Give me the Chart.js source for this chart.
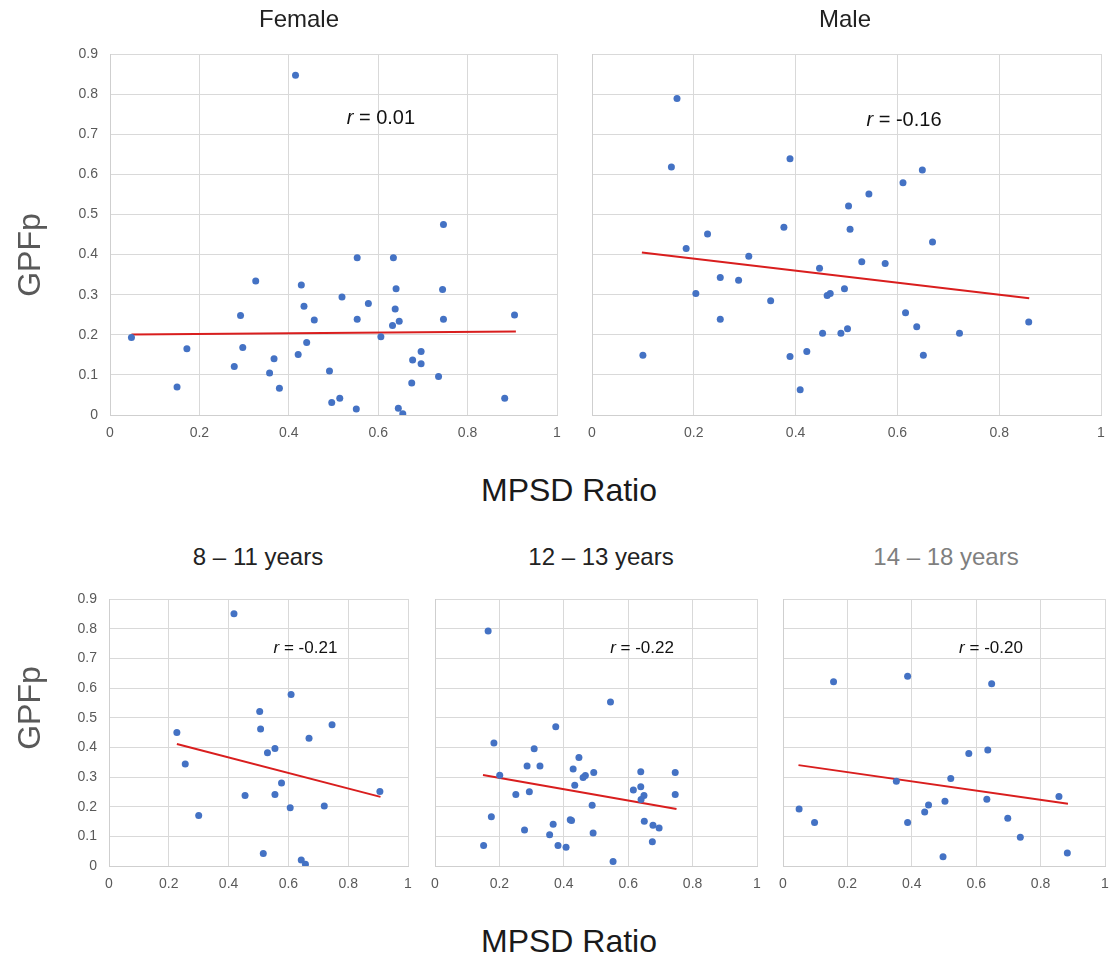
<!DOCTYPE html>
<html><head><meta charset="utf-8">
<script src="https://cdn.jsdelivr.net/npm/chart.js@4.4.1/dist/chart.umd.min.js"></script>
<style>
body{margin:0;background:#fff;width:1113px;height:963px;position:relative;overflow:hidden;font-family:"Liberation Sans",Arial,sans-serif;}
canvas{position:absolute;}
.t{position:absolute;white-space:nowrap;line-height:1;text-align:center;}
</style></head><body>
<script>
// ---- Data ----
const xTicks = [0, 0.2, 0.4, 0.6, 0.8, 1];
const yTicks = [0, 0.1, 0.2, 0.3, 0.4, 0.5, 0.6, 0.7, 0.8, 0.9];

const panelTitles = ['Female', 'Male', '8 – 11 years', '12 – 13 years', '14 – 18 years'];
const rValues = ['0.01', '-0.16', '-0.21', '-0.22', '-0.20'];

const femaleX = [0.415,0.746,0.553,0.634,0.326,0.428,0.640,0.744,0.519,0.578,0.434,0.638,0.292,0.905,0.457,0.553,0.746,0.647,0.632,0.048,0.606,0.440,0.172,0.297,0.696,0.421,0.367,0.677,0.696,0.278,0.491,0.357,0.735,0.675,0.150,0.379,0.883,0.514,0.496,0.551,0.645,0.655];
const femaleY = [0.847,0.475,0.392,0.392,0.334,0.324,0.315,0.313,0.294,0.278,0.271,0.264,0.248,0.249,0.237,0.239,0.239,0.234,0.223,0.193,0.195,0.181,0.165,0.168,0.158,0.151,0.140,0.137,0.128,0.121,0.110,0.105,0.096,0.080,0.070,0.067,0.042,0.042,0.031,0.015,0.017,0.003];
const femaleTrendX = [0.048, 0.908];
const femaleTrendY = [0.201, 0.208];

const maleX = [0.167,0.389,0.156,0.649,0.611,0.544,0.504,0.377,0.507,0.227,0.669,0.185,0.308,0.530,0.576,0.447,0.252,0.288,0.496,0.204,0.468,0.462,0.351,0.616,0.252,0.858,0.638,0.502,0.453,0.489,0.722,0.422,0.100,0.389,0.651,0.409];
const maleY = [0.789,0.639,0.618,0.611,0.579,0.551,0.521,0.468,0.463,0.451,0.431,0.415,0.396,0.382,0.378,0.366,0.343,0.336,0.315,0.303,0.303,0.298,0.285,0.255,0.239,0.232,0.220,0.215,0.204,0.204,0.204,0.158,0.149,0.146,0.149,0.063];
const maleTrendX = [0.098, 0.859];
const maleTrendY = [0.405, 0.291];

const age8to11X = [0.418,0.609,0.504,0.746,0.507,0.227,0.669,0.555,0.530,0.255,0.577,0.906,0.455,0.555,0.720,0.606,0.300,0.516,0.643,0.657];
const age8to11Y = [0.850,0.578,0.521,0.476,0.462,0.450,0.431,0.396,0.382,0.344,0.280,0.251,0.238,0.241,0.202,0.196,0.170,0.042,0.020,0.006];
const age8to11TrendX = [0.227, 0.908];
const age8to11TrendY = [0.411, 0.233];

const age12to13X = [0.165,0.545,0.375,0.183,0.308,0.447,0.286,0.326,0.429,0.639,0.493,0.746,0.201,0.467,0.460,0.434,0.639,0.616,0.293,0.251,0.746,0.649,0.640,0.488,0.175,0.420,0.424,0.650,0.367,0.677,0.696,0.278,0.491,0.356,0.675,0.151,0.382,0.407,0.553];
const age12to13Y = [0.792,0.553,0.469,0.415,0.395,0.366,0.337,0.337,0.327,0.318,0.315,0.315,0.306,0.305,0.298,0.272,0.267,0.256,0.250,0.241,0.241,0.238,0.224,0.205,0.166,0.156,0.153,0.151,0.141,0.137,0.128,0.121,0.111,0.105,0.082,0.069,0.069,0.063,0.015];
const age12to13TrendX = [0.149, 0.750];
const age12to13TrendY = [0.307, 0.192];

const age14to18X = [0.387,0.157,0.648,0.636,0.577,0.521,0.352,0.857,0.633,0.503,0.452,0.050,0.440,0.698,0.098,0.387,0.737,0.883,0.497];
const age14to18Y = [0.640,0.621,0.614,0.391,0.379,0.295,0.286,0.234,0.225,0.218,0.206,0.192,0.182,0.161,0.147,0.147,0.097,0.044,0.031];
const age14to18TrendX = [0.048, 0.885];
const age14to18TrendY = [0.340, 0.210];

const yAxisTitle = 'GPFp';
const xAxisTitle = 'MPSD Ratio';

// ---- Rendering ----
Chart.defaults.font.family = '"Liberation Sans", Arial, sans-serif';

const rLabel = {
  id: 'rLabel',
  afterDatasetsDraw(chart, args, o) {
    const {ctx, scales} = chart;
    const px = scales.x.getPixelForValue(o.x);
    const py = scales.y.getPixelForValue(o.y);
    const fam = '"Liberation Sans", Arial, sans-serif';
    ctx.save();
    ctx.textBaseline = 'alphabetic';
    ctx.textAlign = 'left';
    ctx.fillStyle = '#111';
    ctx.font = 'italic ' + o.size + 'px ' + fam;
    const rW = ctx.measureText('r').width;
    ctx.font = o.size + 'px ' + fam;
    const rest = ' = ' + o.text;
    const restW = ctx.measureText(rest).width;
    const sx = px - (rW + restW) / 2;
    ctx.font = 'italic ' + o.size + 'px ' + fam;
    ctx.fillText('r', sx, py);
    ctx.font = o.size + 'px ' + fam;
    ctx.fillText(rest, sx + rW, py);
    ctx.restore();
  }
};

const fmt = v => String(Math.round(v * 10) / 10);

function makePanel(p, xs, ys, tx, ty, rText) {
  const padL = 24, padR = 24, padT = 26, padB = 4, XH = 30;
  const WY = p.yTicks ? 45 : 0;
  const cv = document.createElement('canvas');
  cv.width = (p.R - p.L) + padL + WY + padR;
  cv.height = (p.B - p.T) + padT + XH + padB;
  cv.style.left = (p.L - padL - WY) + 'px';
  cv.style.top = (p.T - padT) + 'px';
  document.body.appendChild(cv);
  const gridCol = '#d9d9d9';
  new Chart(cv, {
    type: 'scatter',
    data: {
      datasets: [
        { type: 'scatter', data: xs.map((x, i) => ({x: x, y: ys[i]})),
          backgroundColor: '#4472C4', borderWidth: 0, pointRadius: 3.5, pointHoverRadius: 3.5 },
        { type: 'line', data: tx.map((x, i) => ({x: x, y: ty[i]})),
          borderColor: '#d91e1e', borderWidth: 2, pointRadius: 0, fill: false, tension: 0 }
      ]
    },
    options: {
      responsive: false, animation: false, events: [],
      layout: { padding: { left: padL, right: padR, top: padT, bottom: padB } },
      plugins: {
        legend: { display: false }, tooltip: { enabled: false },
        rLabel: { x: p.rx, y: p.ry, size: p.rSize, text: rText }
      },
      scales: {
        x: {
          type: 'linear', min: xTicks[0], max: xTicks[xTicks.length - 1],
          afterBuildTicks: s => { s.ticks = xTicks.map(v => ({value: v})); },
          ticks: { color: '#595959', font: { size: 14 }, padding: 10, callback: fmt },
          grid: { color: gridCol, drawTicks: false },
          border: { color: '#cfcfcf' },
          afterFit: s => { s.height = XH; }
        },
        y: {
          type: 'linear', min: yTicks[0], max: yTicks[yTicks.length - 1],
          afterBuildTicks: s => { s.ticks = yTicks.map(v => ({value: v})); },
          ticks: { display: p.yTicks, color: '#595959', font: { size: 14 }, padding: 12, callback: fmt },
          grid: { color: gridCol, drawTicks: false },
          border: { color: '#cfcfcf' },
          afterFit: s => { s.width = WY; }
        }
      }
    },
    plugins: [rLabel]
  });
}

function addText(text, cx, capCy, size, color, rotate) {
  const d = document.createElement('div');
  d.className = 't';
  d.textContent = text;
  d.style.fontSize = size + 'px';
  d.style.color = color;
  if (rotate) {
    d.style.width = '240px'; d.style.height = size + 'px';
    d.style.left = (cx - 120) + 'px';
    d.style.top = (capCy - size / 2) + 'px';
    d.style.transform = 'rotate(-90deg)';
  } else {
    d.style.width = '400px';
    d.style.left = (cx - 200) + 'px';
    d.style.top = (capCy - 0.49 * size) + 'px';
  }
  document.body.appendChild(d);
}

const layouts = [
  {L:110, R:557, T:54, B:415, yTicks:true,  rx:0.606, ry:0.726, rSize:20},
  {L:592, R:1101, T:54, B:415, yTicks:false, rx:0.613, ry:0.721, rSize:20},
  {L:109, R:408, T:599, B:866, yTicks:true,  rx:0.657, ry:0.718, rSize:17},
  {L:435, R:757, T:599, B:866, yTicks:false, rx:0.643, ry:0.718, rSize:17},
  {L:783, R:1105, T:599, B:866, yTicks:false, rx:0.646, ry:0.718, rSize:17}
];

makePanel(layouts[0], femaleX, femaleY, femaleTrendX, femaleTrendY, rValues[0]);
makePanel(layouts[1], maleX, maleY, maleTrendX, maleTrendY, rValues[1]);
makePanel(layouts[2], age8to11X, age8to11Y, age8to11TrendX, age8to11TrendY, rValues[2]);
makePanel(layouts[3], age12to13X, age12to13Y, age12to13TrendX, age12to13TrendY, rValues[3]);
makePanel(layouts[4], age14to18X, age14to18Y, age14to18TrendX, age14to18TrendY, rValues[4]);

addText(panelTitles[0], 299, 19, 24, '#222', false);
addText(panelTitles[1], 845, 19, 24, '#222', false);
addText(panelTitles[2], 258, 556.5, 24, '#222', false);
addText(panelTitles[3], 601, 556.5, 24, '#222', false);
addText(panelTitles[4], 946, 556.5, 24, '#7f7f7f', false);

addText(yAxisTitle, 28.5, 254.5, 32, '#595959', true);
addText(yAxisTitle, 28.5, 708, 32, '#595959', true);
addText(xAxisTitle, 569, 490, 32, '#1a1a1a', false);
addText(xAxisTitle, 569, 941, 32, '#1a1a1a', false);
</script>
</body></html>
